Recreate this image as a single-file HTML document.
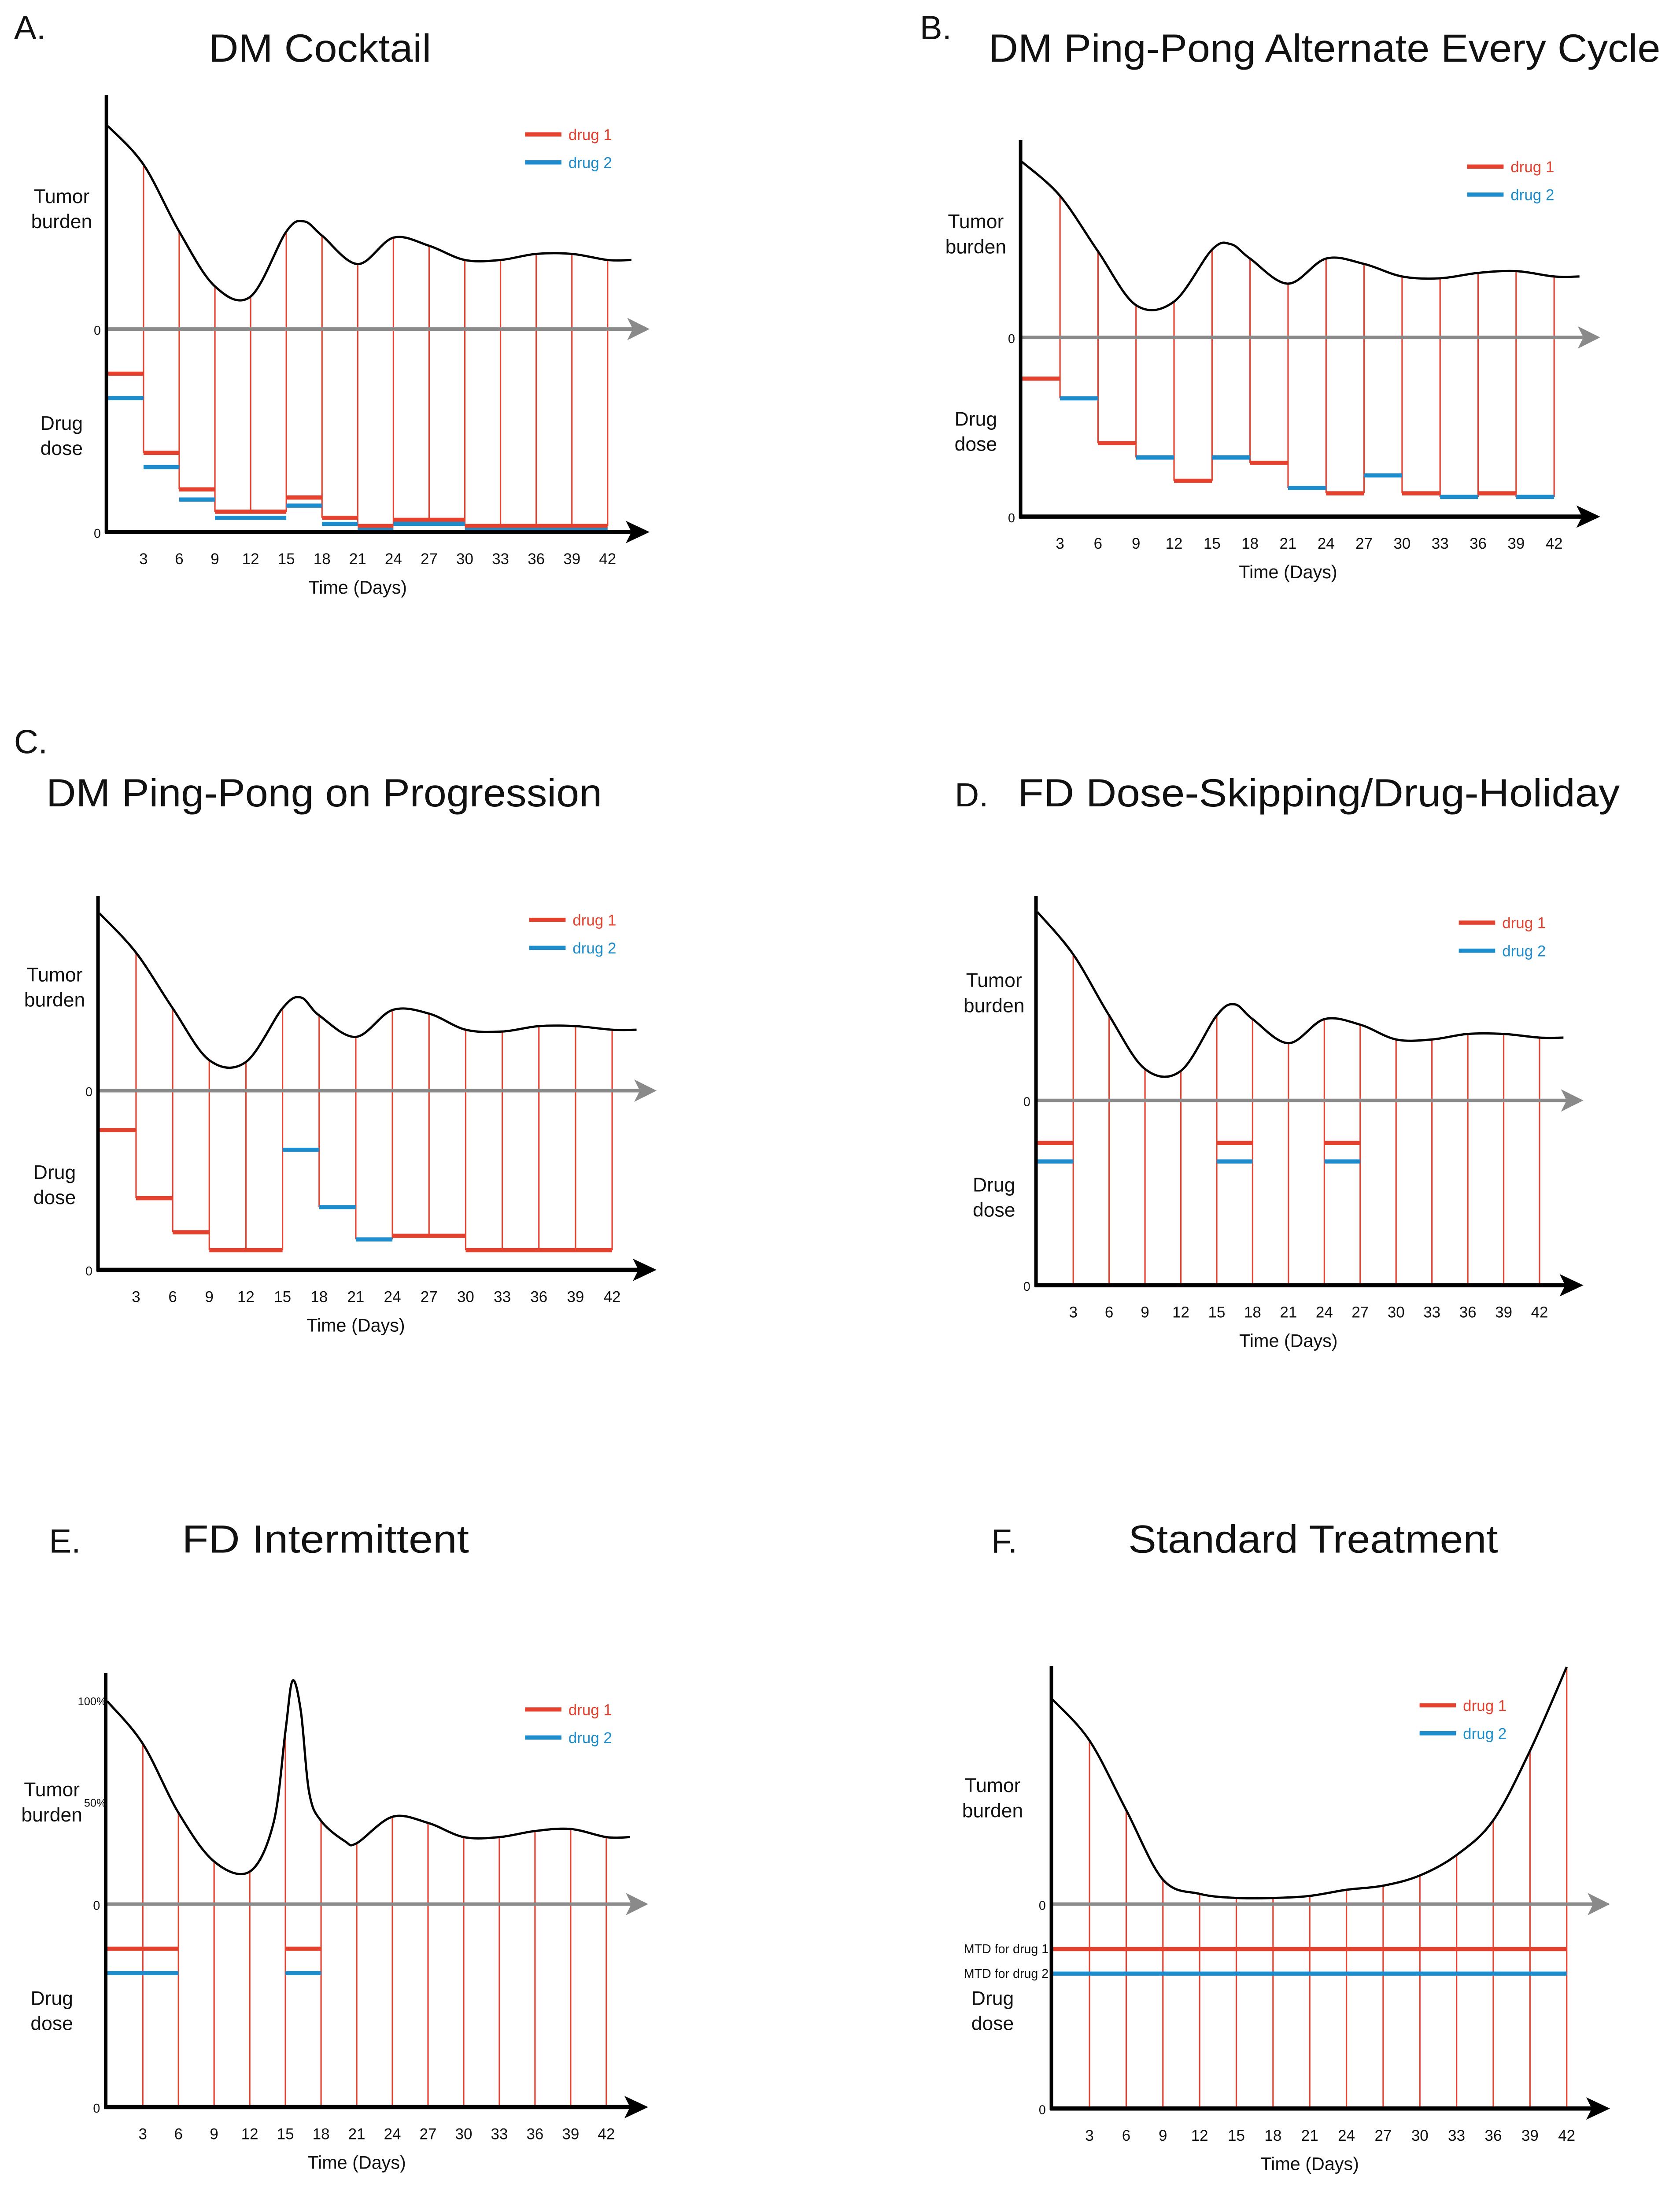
<!DOCTYPE html>
<html><head><meta charset="utf-8">
<style>
html,body{margin:0;padding:0;background:#fff;overflow:hidden;width:3815px;height:5015px;}
svg{display:block;}
text{font-family:"Liberation Sans",sans-serif;}
</style></head>
<body>
<svg id="fig" xmlns="http://www.w3.org/2000/svg" width="3815" height="5015" viewBox="0 0 1200 1577.5">
<rect x="0" y="0" width="1200" height="1577.5" fill="#fff"/>
<g id="root"></g>
</svg>
<script>
// ---- data (tumor in units of dose-range above zero line; doses 0..1) ----
const tickDays=[3,6,9,12,15,18,21,24,27,30,33,36,39,42];
const aDays=[0,3,6,9,12,15,16.5,18,21,24,27,30,33,36,39,42,44];
const aTumor=[1.0,0.81,0.48,0.21,0.16,0.48,0.53,0.46,0.32,0.45,0.41,0.34,0.34,0.37,0.37,0.34,0.34];
const aSegDrugFull=[1,2,1,2,1,2,1,2,1,2,1,2,1,2,1,2,1,2];
const aSegStart=[0,0,3,3,6,6,9,9,15,15,18,18,21,21,24,24,30,30];
const aSegEnd=[3,3,6,6,9,9,15,15,18,18,21,21,24,24,30,30,42,42];
const aSegDose=[0.78,0.66,0.39,0.32,0.21,0.16,0.10,0.07,0.17,0.13,0.07,0.04,0.03,0.01,0.06,0.04,0.03,0.01];

const bDays=[0,3,6,9,12,15,16.5,18,21,24,27,30,33,36,39,42,44];
const bTumor=[0.98,0.79,0.48,0.18,0.2,0.49,0.52,0.44,0.30,0.44,0.41,0.34,0.33,0.36,0.37,0.34,0.34];
const bSegDrug=[1,2,1,2,1,2,1,2,1,2,1,2,1,2];
const bSegStart=[0,3,6,9,12,15,18,21,24,27,30,33,36,39];
const bSegEnd=[3,6,9,12,15,18,21,24,27,30,33,36,39,42];
const bSegDose=[0.77,0.66,0.41,0.33,0.20,0.33,0.30,0.16,0.13,0.23,0.13,0.11,0.13,0.11];

const cDays=[0,3,6,9,12,15,16.5,18,21,24,27,30,33,36,39,42,44];
const cTumor=[0.99,0.77,0.46,0.17,0.16,0.46,0.52,0.42,0.30,0.45,0.43,0.34,0.33,0.36,0.36,0.34,0.34];
const cSegDrug=[1,1,1,1,2,2,2,1,1];
const cSegStart=[0,3,6,9,15,18,21,24,30];
const cSegEnd=[3,6,9,15,18,21,24,30,42];
const cSegDose=[0.78,0.40,0.21,0.11,0.67,0.35,0.17,0.19,0.11];

const dDays=[0,3,6,9,12,15,16.5,18,21,24,27,30,33,36,39,42,44];
const dTumor=[1.02,0.79,0.46,0.17,0.16,0.46,0.52,0.44,0.31,0.44,0.41,0.33,0.33,0.36,0.36,0.34,0.34];
const dSegDrug=[1,2,1,2,1,2];
const dSegStart=[0,0,15,15,24,24];
const dSegEnd=[3,3,18,18,27,27];
const dSegDose=[0.77,0.67,0.77,0.67,0.77,0.67];

const eDays=[0,3,6,9,12,14,15,15.6,16.3,17,18,20,21,24,27,30,33,36,39,42,44];
const eTumor=[1.0,0.79,0.45,0.21,0.16,0.4,0.85,1.10,0.95,0.55,0.41,0.31,0.30,0.43,0.40,0.33,0.33,0.36,0.37,0.33,0.33];
const eSegDrug=[1,2,1,2];
const eSegStart=[0,0,15,15];
const eSegEnd=[6,6,18,18];
const eSegDose=[0.78,0.66,0.78,0.66];

const fDays=[0,3,6,9,12,15,18,21,24,27,30,33,36,39,42];
const fTumor=[1.0,0.80,0.46,0.12,0.05,0.03,0.03,0.04,0.07,0.09,0.14,0.24,0.41,0.75,1.16];
const fSegDrug=[1,2];
const fSegStart=[0,0];
const fSegEnd=[42,42];
const fSegDose=[0.78,0.66];

const RED='#e5412f', BLUE='#1c8ccc';
const NS='http://www.w3.org/2000/svg';
const root=document.getElementById('root');
function mk(tag,attrs,parent,txt){const e=document.createElementNS(NS,tag);for(const k in attrs)e.setAttribute(k,attrs[k]);if(txt!==undefined)e.textContent=txt;(parent||root).appendChild(e);return e;}

function smoothPath(pts){
  let d='M'+pts[0][0]+','+pts[0][1];
  for(let i=0;i<pts.length-1;i++){
    const p0=pts[Math.max(0,i-1)],p1=pts[i],p2=pts[i+1],p3=pts[Math.min(pts.length-1,i+2)];
    const c1x=p1[0]+(p2[0]-p0[0])/6,c1y=p1[1]+(p2[1]-p0[1])/6;
    const c2x=p2[0]-(p3[0]-p1[0])/6,c2y=p2[1]-(p3[1]-p1[1])/6;
    d+=' C'+c1x.toFixed(2)+','+c1y.toFixed(2)+' '+c2x.toFixed(2)+','+c2y.toFixed(2)+' '+p2[0].toFixed(2)+','+p2[1].toFixed(2);
  }
  return d;
}

function panel(cfg){
  const g=mk('g',{});
  
  
  const X=d=>cfg.ox+cfg.xs*d;
  const range=cfg.yb-cfg.y0;
  const YT=v=>cfg.y0-v*range;
  const YD=v=>cfg.yb-v*range;
  const lt=mk('text',{x:cfg.lx,y:cfg.ly,'font-size':24,fill:'#111'},g,cfg.letter);
  
  
  const tt=mk('text',{x:cfg.tx,y:cfg.ty,'font-size':28,fill:'#111',textLength:cfg.tw,lengthAdjust:'spacingAndGlyphs'},g,cfg.title);
  
  
  const tv=(d)=>{const i=cfg.days.indexOf(d);return cfg.tumor[i];};
  tickDays.forEach(d=>{
    if(X(d)>X(cfg.days[cfg.days.length-1])+0.5) return;
    let yEnd=cfg.yb;
    if(cfg.mode==='seg'){
      let m=null;
      for(let i=0;i<cfg.segDose.length;i++){
        if(cfg.segDrug[i]!==1 && cfg.segHasRedOnly) continue;
        if(cfg.segStart[i]<=d && cfg.segEnd[i]>=d){
          const y=YD(cfg.segDose[i]); if(m===null||y>m) m=y;
        }
      }
      if(m!==null) yEnd=m;
    }
    const ln=mk('line',{x1:X(d),y1:YT(tv(d)),x2:X(d),y2:yEnd,stroke:RED,'stroke-width':1},g);
    
    
  });
  const zl=mk('line',{x1:cfg.ox-2,y1:cfg.y0,x2:cfg.ax-12,y2:cfg.y0,stroke:'#8a8a8a','stroke-width':2.5},g);
  
  
  const za=mk('polygon',{points:`${cfg.ax},${cfg.y0} ${cfg.ax-16},${cfg.y0-8} ${cfg.ax-12},${cfg.y0} ${cfg.ax-16},${cfg.y0+8}`,fill:'#8a8a8a'},g);
  
  
  for(let i=0;i<cfg.segDose.length;i++){
    const s=mk('line',{x1:X(cfg.segStart[i]),y1:YD(cfg.segDose[i]),x2:X(cfg.segEnd[i]),y2:YD(cfg.segDose[i]),stroke:cfg.segDrug[i]===1?RED:BLUE,'stroke-width':3},g);
    
    
  }
  const ya=mk('line',{x1:cfg.ox-1,y1:cfg.ytop,x2:cfg.ox-1,y2:cfg.yb+1,stroke:'#000','stroke-width':2.5},g);
  
  
  const xa=mk('line',{x1:cfg.ox-2,y1:cfg.yb,x2:cfg.ax-12,y2:cfg.yb,stroke:'#000','stroke-width':3},g);
  
  
  const xar=mk('polygon',{points:`${cfg.ax},${cfg.yb} ${cfg.ax-17},${cfg.yb-8} ${cfg.ax-13},${cfg.yb} ${cfg.ax-17},${cfg.yb+8}`,fill:'#000'},g);
  
  
  const pts=cfg.days.map((d,i)=>[X(d),YT(cfg.tumor[i])]);
  const cv=mk('path',{d:smoothPath(pts),fill:'none',stroke:'#000','stroke-width':1.6},g);
  
  
  tickDays.forEach(d=>{
    const t=mk('text',{x:X(d),y:cfg.yb+23,'font-size':11,'text-anchor':'middle',fill:'#111'},g,String(d));
    
    
  });
  const xt=mk('text',{x:X(21),y:cfg.yb+44,'font-size':13,'text-anchor':'middle',fill:'#111'},g,'Time (Days)');
  
  
  const z1=mk('text',{x:cfg.ox-5,y:cfg.y0+4,'font-size':9,'text-anchor':'end','font-family':'Liberation Serif',fill:'#111'},g,'0');
  
  
  const z2=mk('text',{x:cfg.ox-5,y:cfg.yb+4,'font-size':9,'text-anchor':'end','font-family':'Liberation Serif',fill:'#111'},g,'0');
  
  
  const tb=mk('text',{x:cfg.labx,y:cfg.tby,'font-size':14,'text-anchor':'middle',fill:'#111'},g);
  
  
  mk('tspan',{x:cfg.labx,dy:0},tb,'Tumor');
  mk('tspan',{x:cfg.labx,dy:18},tb,'burden');
  const dd=mk('text',{x:cfg.labx,y:cfg.ddy,'font-size':14,'text-anchor':'middle',fill:'#111'},g);
  
  
  mk('tspan',{x:cfg.labx,dy:0},dd,'Drug');
  mk('tspan',{x:cfg.labx,dy:18},dd,'dose');
  [[RED,'drug 1',0],[BLUE,'drug 2',20]].forEach(([c,l,dy])=>{
    const lg=mk('g',{},g);
    
    
    mk('line',{x1:cfg.legx,y1:cfg.legy+dy,x2:cfg.legx+26,y2:cfg.legy+dy,stroke:c,'stroke-width':3},lg);
    mk('text',{x:cfg.legx+31,y:cfg.legy+dy+4,'font-size':11,fill:c},lg,l);
  });
  if(cfg.extra) cfg.extra(g,X,YT,YD);
}

panel({name:'panel-a-dm-cocktail',letter:'A.',lx:10,ly:28,title:'DM Cocktail',tx:149,ty:44,tw:159,
  ox:77,xs:8.5,y0:235,yb:380,ytop:68,ax:464,days:aDays,tumor:aTumor,
  segDrug:aSegDrugFull,segStart:aSegStart,segEnd:aSegEnd,segDose:aSegDose,mode:'seg',segHasRedOnly:true,
  labx:44,tby:145,ddy:307,legx:375,legy:96});
panel({name:'panel-b-ping-pong-alternate',letter:'B.',lx:657,ly:28,title:'DM Ping-Pong Alternate Every Cycle',tx:706,ty:44,tw:480,
  ox:730,xs:9.05,y0:241,yb:369,ytop:100,ax:1143,days:bDays,tumor:bTumor,
  segDrug:bSegDrug,segStart:bSegStart,segEnd:bSegEnd,segDose:bSegDose,mode:'seg',
  labx:697,tby:163,ddy:304,legx:1048,legy:119});
panel({name:'panel-c-ping-pong-progression',letter:'C.',lx:10,ly:538,title:'DM Ping-Pong on Progression',tx:33,ty:576,tw:397,
  ox:71,xs:8.72,y0:779,yb:907,ytop:640,ax:469,days:cDays,tumor:cTumor,
  segDrug:cSegDrug,segStart:cSegStart,segEnd:cSegEnd,segDose:cSegDose,mode:'seg',
  labx:39,tby:701,ddy:842,legx:378,legy:657});
panel({name:'panel-d-dose-skipping',letter:'D.',lx:682,ly:576,title:'FD Dose-Skipping/Drug-Holiday',tx:727,ty:576,tw:430,
  ox:741,xs:8.54,y0:786,yb:918,ytop:640,ax:1131,days:dDays,tumor:dTumor,
  segDrug:dSegDrug,segStart:dSegStart,segEnd:dSegEnd,segDose:dSegDose,mode:'bottom',
  labx:710,tby:705,ddy:851,legx:1042,legy:659});
panel({name:'panel-e-fd-intermittent',letter:'E.',lx:35,ly:1109,title:'FD Intermittent',tx:130,ty:1109,tw:205,
  ox:76.5,xs:8.49,y0:1360,yb:1505,ytop:1195,ax:463,days:eDays,tumor:eTumor,
  segDrug:eSegDrug,segStart:eSegStart,segEnd:eSegEnd,segDose:eSegDose,mode:'bottom',
  labx:37,tby:1283,ddy:1432,legx:375,legy:1221,
  extra:(g,X,YT)=>{
    const a=mk('text',{x:76,y:YT(1.0)+3,'font-size':8,'text-anchor':'end','font-family':'Liberation Serif',fill:'#111'},g,'100%');
    
    
    const b=mk('text',{x:76,y:YT(0.5)+3,'font-size':8,'text-anchor':'end','font-family':'Liberation Serif',fill:'#111'},g,'50%');
    
    
  }});
panel({name:'panel-f-standard-treatment',letter:'F.',lx:708,ly:1109,title:'Standard Treatment',tx:806,ty:1109,tw:264,
  ox:752,xs:8.74,y0:1360,yb:1506,ytop:1190,ax:1150,days:fDays,tumor:fTumor,
  segDrug:fSegDrug,segStart:fSegStart,segEnd:fSegEnd,segDose:fSegDose,mode:'bottom',
  labx:709,tby:1280,ddy:1432,legx:1014,legy:1218,
  extra:(g,X,YT,YD)=>{
    const a=mk('text',{x:749,y:YD(0.78)+3,'font-size':9,'text-anchor':'end','font-family':'Liberation Serif',fill:'#111'},g,'MTD for drug 1');
    
    
    const b=mk('text',{x:749,y:YD(0.66)+3,'font-size':9,'text-anchor':'end','font-family':'Liberation Serif',fill:'#111'},g,'MTD for drug 2');
    
    
  }});
</script>
</body></html>
